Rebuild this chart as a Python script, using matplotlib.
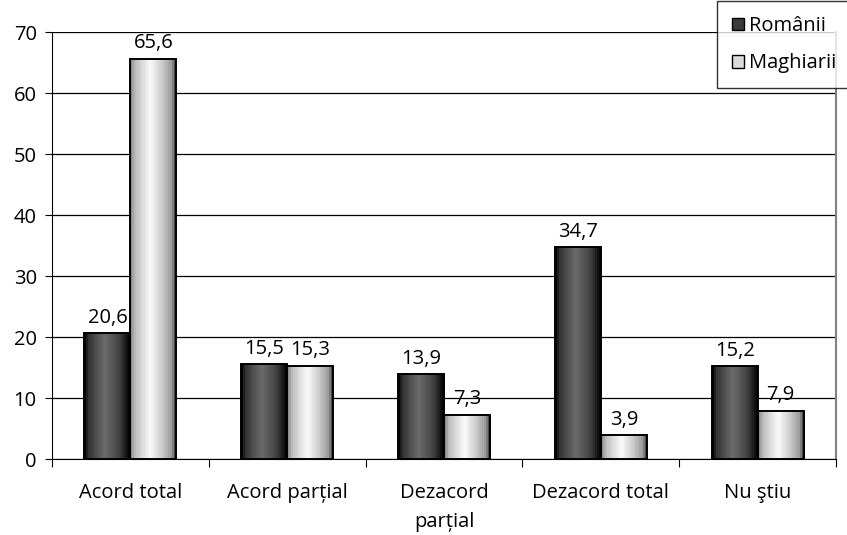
import numpy as np
import matplotlib
matplotlib.use("Agg")
import matplotlib.pyplot as plt
from matplotlib.patches import Patch

# data
categories = ["Acord total", "Acord parțial", "Dezacord\nparțial", "Dezacord total", "Nu ştiu"]
romanii = [20.6, 15.5, 13.9, 34.7, 15.2]
maghiarii = [65.6, 15.3, 7.3, 3.9, 7.9]
series_names = ["Românii", "Maghiarii"]

plt.rcParams['font.family'] = ['Open Sans', 'DejaVu Sans']
fs = 14.5

# cylinder-like shading across each bar
t = np.linspace(0, 1, 24)
dark_shade = np.interp(t, [0, 0.08, 0.45, 0.8, 1], [0.02, 0.2, 0.42, 0.25, 0.02])
light_shade = np.interp(t, [0, 0.1, 0.45, 0.8, 0.93, 1], [0.55, 0.75, 0.98, 0.72, 0.6, 0.3])

fig = plt.figure(figsize=(8.47, 5.35), dpi=100)
ax = fig.add_axes([0.0614, 0.142, 0.9256, 0.798])

x = np.arange(len(categories))
w = 0.293


def shaded_bars(xs, heights, shade):
    bars = ax.bar(xs, heights, width=w, facecolor="none", edgecolor="black",
                  linewidth=1.4, zorder=3)
    for b in bars:
        img = ax.imshow(shade[np.newaxis, :], cmap="gray", vmin=0, vmax=1,
                        extent=[b.get_x(), b.get_x() + b.get_width(), 0, b.get_height()],
                        aspect="auto", interpolation="nearest", zorder=2)
        img.set_clip_path(b)
    return bars


shaded_bars(x - w / 2, romanii, dark_shade)
shaded_bars(x + w / 2, maghiarii, light_shade)

for i in range(len(categories)):
    ax.text(x[i] - w / 2, romanii[i] + 0.9, f"{romanii[i]:.1f}".replace(".", ","),
            ha="center", va="bottom", fontsize=fs)
    ax.text(x[i] + w / 2, maghiarii[i] + 0.9, f"{maghiarii[i]:.1f}".replace(".", ","),
            ha="center", va="bottom", fontsize=fs)

ax.set_xlim(-0.5, len(categories) - 0.5)
ax.set_ylim(0, 70)
ax.set_yticks(range(0, 71, 10))
ax.yaxis.grid(True, color="black", linewidth=0.9)
ax.set_axisbelow(True)

# category labels between boundary ticks
ax.set_xticks(np.arange(-0.5, len(categories), 1.0))
ax.set_xticklabels([])
ax.set_xticks(x, minor=True)
ax.set_xticklabels(categories, minor=True, fontsize=fs, linespacing=1.6)
ax.tick_params(axis="x", which="minor", length=0, pad=17)
ax.tick_params(axis="x", which="major", length=6, direction="out")
ax.tick_params(axis="y", length=5, labelsize=fs, pad=6)

ax.spines["top"].set_visible(False)
ax.spines["right"].set_color("gray")
ax.spines["right"].set_linewidth(1.5)

handles = [Patch(facecolor="#3a3a3a", edgecolor="black"),
           Patch(facecolor="#dcdcdc", edgecolor="black")]
leg = fig.legend(handles, series_names, loc="upper left", bbox_to_anchor=(0.8465, 0.998),
                 fontsize=fs, frameon=True, fancybox=False, edgecolor="black",
                 handlelength=0.6, handleheight=0.6, handletextpad=0.25,
                 borderpad=0.75, labelspacing=0.85, borderaxespad=0)
leg.get_frame().set_linewidth(1.0)

fig.savefig("out.png", dpi=100)
